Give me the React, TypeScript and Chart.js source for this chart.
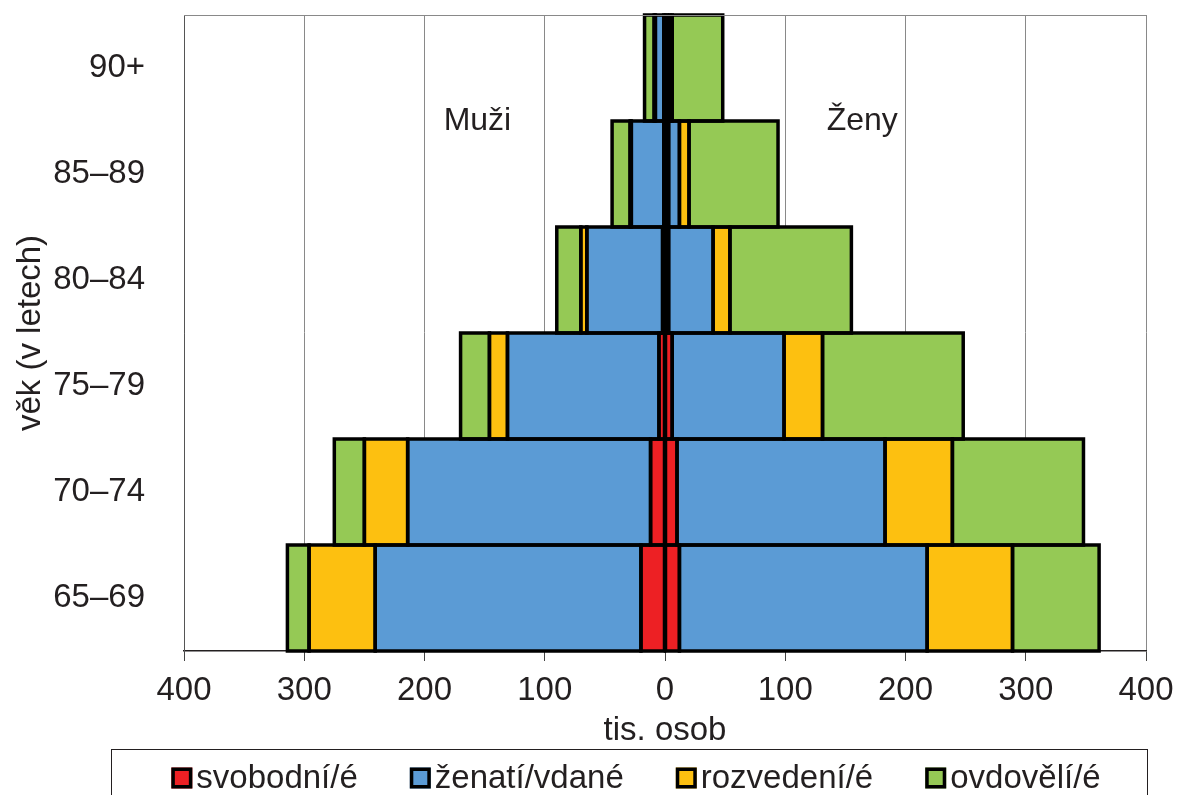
import { useEffect, useRef } from 'react';
import { Chart, registerables } from 'chart.js';

Chart.register(...registerables);

const FONT = '"Liberation Sans", Arial, sans-serif';
const TEXT = '#231F20';

// categories (bottom to top)
const ageGroups = ['65–69', '70–74', '75–79', '80–84', '85–89', '90+'];

// men (tis. osob)
const menSingle = [20, 12, 5, 2, 1, 1];
const menMarried = [221, 202, 126, 63, 27, 7];
const menDivorced = [55, 36, 15, 5, 1, 1];
const menWidowed = [18, 25, 24, 20, 15, 8];

// women (tis. osob)
const womenSingle = [12, 10, 6, 3, 3, 2];
const womenMarried = [206, 173, 93, 37, 9, 2];
const womenDivorced = [71, 56, 32, 14, 8, 2];
const womenWidowed = [72, 109, 117, 101, 74, 42];

const seriesLabels = ['svobodní/é', 'ženatí/vdané', 'rozvedení/é', 'ovdovělí/é'];
const seriesColors = ['#ED2024', '#5B9BD5', '#FDC010', '#95C955'];

const sideLabels = ['Muži', 'Ženy'];
const sideLabelX = [-156, 164];

const xMin = -400;
const xMax = 400;
const xStep = 100;

const menSeries = [menSingle, menMarried, menDivorced, menWidowed];
const womenSeries = [womenSingle, womenMarried, womenDivorced, womenWidowed];

const decorPlugin = {
  id: 'pyramidDecor',
  afterDatasetsDraw(chart: any) {
    const ctx = chart.ctx;
    ctx.save();
    ctx.strokeStyle = '#000';
    ctx.lineWidth = 3.5;
    chart.data.datasets.forEach((_: any, i: number) => {
      const meta = chart.getDatasetMeta(i);
      meta.data.forEach((el: any) => {
        const p = el.getProps(['x', 'y', 'base', 'height'], true);
        const left = Math.min(p.x, p.base);
        const w = Math.abs(p.x - p.base);
        if (w < 0.01) return;
        ctx.strokeRect(left, p.y - p.height / 2, w, p.height);
      });
    });
    // side labels
    const xs = chart.scales.x;
    const ys = chart.scales.y;
    ctx.fillStyle = TEXT;
    ctx.font = `32px ${FONT}`;
    ctx.textAlign = 'center';
    ctx.textBaseline = 'middle';
    const yPix = ys.getPixelForValue(ageGroups.length - 1.5);
    sideLabels.forEach((t, i) => {
      ctx.fillText(t, xs.getPixelForValue(sideLabelX[i]), yPix);
    });
    ctx.restore();
  },
  afterDraw(chart: any) {
    const ctx = chart.ctx;
    const area = chart.chartArea;
    ctx.save();
    // top border of plot
    ctx.strokeStyle = '#898989';
    ctx.lineWidth = 1;
    ctx.beginPath();
    ctx.moveTo(area.left, area.top + 0.5);
    ctx.lineTo(area.right, area.top + 0.5);
    ctx.stroke();

    // legend box
    ctx.strokeStyle = TEXT;
    ctx.lineWidth = 1;
    ctx.strokeRect(111.5, 749.5, 1036, 80);
    ctx.font = `33px ${FONT}`;
    const marker = 21;
    const gapMT = 4;
    const gapItem = 52;
    const widths = seriesLabels.map((l) => ctx.measureText(l).width);
    const total =
      widths.reduce((a, w) => a + marker + gapMT + w, 0) + gapItem * (seriesLabels.length - 1);
    let x = 636 - total / 2;
    const cy = 778;
    ctx.textAlign = 'left';
    ctx.textBaseline = 'middle';
    seriesLabels.forEach((l, i) => {
      ctx.fillStyle = seriesColors[i];
      ctx.fillRect(x, cy - marker / 2, marker, marker);
      ctx.strokeStyle = '#000';
      ctx.lineWidth = 3.5;
      ctx.strokeRect(x + 1.75, cy - marker / 2 + 1.75, marker - 3.5, marker - 3.5);
      ctx.fillStyle = TEXT;
      ctx.fillText(l, x + marker + gapMT, cy + 1);
      x += marker + gapMT + widths[i] + gapItem;
    });
    ctx.restore();
  },
};

export default function App() {
  const ref = useRef<HTMLCanvasElement | null>(null);

  useEffect(() => {
    if (!ref.current) return;
    const datasets: any[] = [];
    menSeries.forEach((arr, i) => {
      datasets.push({
        label: seriesLabels[i],
        data: arr.map((v) => -v),
        backgroundColor: seriesColors[i],
        borderWidth: 0,
        stack: 'pyramid',
      });
    });
    womenSeries.forEach((arr, i) => {
      datasets.push({
        label: seriesLabels[i],
        data: arr.slice(),
        backgroundColor: seriesColors[i],
        borderWidth: 0,
        stack: 'pyramid',
      });
    });

    const chart = new Chart(ref.current, {
      type: 'bar',
      data: { labels: ageGroups, datasets },
      plugins: [decorPlugin],
      options: {
        indexAxis: 'y',
        responsive: false,
        animation: false,
        devicePixelRatio: 1,
        layout: { padding: { top: 15, right: 32, bottom: 44, left: 0 } },
        datasets: {
          bar: { categoryPercentage: 1, barPercentage: 1 },
        },
        plugins: {
          legend: { display: false },
          tooltip: { enabled: false },
        },
        scales: {
          x: {
            type: 'linear',
            stacked: true,
            min: xMin,
            max: xMax,
            ticks: {
              stepSize: xStep,
              color: TEXT,
              font: { family: FONT, size: 33 },
              padding: 10,
              callback: (v: any) => String(Math.abs(Number(v))),
            },
            grid: {
              color: '#898989',
              lineWidth: 1,
              tickLength: 10,
              tickColor: '#444',
            },
            border: { display: true, color: TEXT, width: 1.5 },
            title: {
              display: true,
              text: 'tis. osob',
              color: TEXT,
              font: { family: FONT, size: 33 },
              padding: { top: 0, bottom: 0 },
            },
            afterFit: (s: any) => {
              s.height = 100;
              s.paddingLeft = 0;
              s.paddingRight = 0;
            },
          },
          y: {
            type: 'category',
            stacked: true,
            reverse: true,
            ticks: {
              color: TEXT,
              font: { family: FONT, size: 33 },
              padding: 31,
            },
            grid: { display: false },
            border: { display: true, color: '#555', width: 1 },
            title: {
              display: true,
              text: 'věk (v letech)',
              color: TEXT,
              font: { family: FONT, size: 33 },
              padding: { top: 11, bottom: 0 },
            },
            afterFit: (s: any) => {
              s.width = 184;
              s.paddingTop = 0;
              s.paddingBottom = 0;
            },
          },
        },
      },
    });
    return () => chart.destroy();
  }, []);

  return (
    <div style={{ position: 'fixed', left: 0, top: 0, width: 1178, height: 795, background: '#fff' }}>
      <canvas ref={ref} width={1178} height={795} style={{ width: 1178, height: 795, display: 'block' }} />
    </div>
  );
}
